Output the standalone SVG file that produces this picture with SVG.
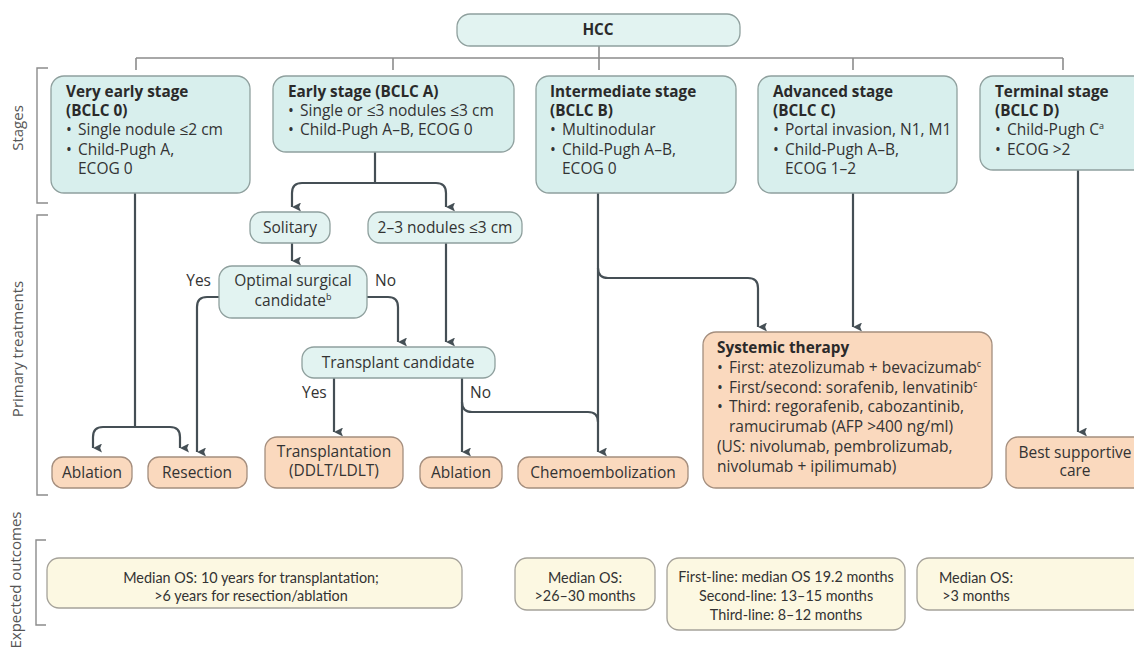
<svg xmlns="http://www.w3.org/2000/svg" width="1134" height="651" viewBox="0 0 1134 651">
<defs>
<marker id="ah" viewBox="0 0 10 10" refX="5" refY="10" markerWidth="9" markerHeight="9" markerUnits="userSpaceOnUse" orient="auto-start-reverse">
<path d="M0,0 L5,2 L10,0 L5,10 Z" fill="#454f55"/>
</marker>
<style>
text{font-family:"Open Sans",Lato,"Liberation Sans",sans-serif;fill:#333;}
.t{font-size:15.5px;}
.b{font-size:15.3px;font-weight:bold;fill:#2a2a2a;}
.c{text-anchor:middle;}
.o{font-family:Lato,"Open Sans",sans-serif;font-size:14.4px;text-anchor:middle;}
.side{font-size:15px;fill:#555;text-anchor:middle;}
.stage{fill:#d8efed;stroke:#8fa09e;stroke-width:1.3;}
.mid{fill:#e2f3f1;stroke:#8fa09e;stroke-width:1.3;}
.treat{fill:#fad9be;stroke:#a48e7e;stroke-width:1.3;}
.out{fill:#fcf8e2;stroke:#a5a29a;stroke-width:1.3;}
.tree{fill:none;stroke:#8c8c8c;stroke-width:1.6;}
.arr{fill:none;stroke:#454f55;stroke-width:2.2;}
.brk{fill:none;stroke:#8c8c8c;stroke-width:1.4;}
.sup{font-size:9px;}
</style>
</defs>

<g id="side-labels">
<path class="brk" d="M48,68 L37,68 L37,203 L48,203"/>
<path class="brk" d="M48,215 L37,215 L37,495 L48,495"/>
<path class="brk" d="M46,540 L36,540 L36,625 L46,625"/>
<text class="side" transform="translate(23,128) rotate(-90)">Stages</text>
<text class="side" transform="translate(23,349) rotate(-90)">Primary treatments</text>
<text class="side" transform="translate(21,580) rotate(-90)">Expected outcomes</text>
</g>

<g id="connectors">
<path class="tree" d="M599,46 L599,70 M136,58 L1063,58 M136,58 L136,70 M393,58 L393,70 M853,58 L853,70 M1063,58 L1063,70"/>
<path class="arr" d="M135,193 L135,427"/>
<path class="arr" d="M135,427 L103,427 Q93,427 93,437 L93,448" marker-end="url(#ah)"/>
<path class="arr" d="M135,427 L170,427 Q180,427 180,437 L180,448" marker-end="url(#ah)"/>
<path class="arr" d="M375,152 L375,183"/>
<path class="arr" d="M375,183 L302,183 Q292,183 292,193 L292,207" marker-end="url(#ah)"/>
<path class="arr" d="M375,183 L436,183 Q446,183 446,193 L446,207" marker-end="url(#ah)"/>
<path class="arr" d="M292,243 L292,261" marker-end="url(#ah)"/>
<path class="arr" d="M219,297 L207,297 Q197,297 197,307 L197,452" marker-end="url(#ah)"/>
<path class="arr" d="M367,297 L388,297 Q398,297 398,307 L398,342" marker-end="url(#ah)"/>
<path class="arr" d="M446,243 L446,342" marker-end="url(#ah)"/>
<path class="arr" d="M334,378 L334,432" marker-end="url(#ah)"/>
<path class="arr" d="M462,378 L462,452" marker-end="url(#ah)"/>
<path class="arr" d="M462,402 Q462,412 472,412 L588,412 Q598,412 598,422"/>
<path class="arr" d="M598,193 L598,452" marker-end="url(#ah)"/>
<path class="arr" d="M598,268 Q598,278 608,278 L748,278 Q758,278 758,288 L758,327" marker-end="url(#ah)"/>
<path class="arr" d="M853,193 L853,327" marker-end="url(#ah)"/>
<path class="arr" d="M1078,170 L1078,432" marker-end="url(#ah)"/>
<text class="t" x="211" y="286" text-anchor="end">Yes</text>
<text class="t" x="375" y="286">No</text>
<text class="t" x="302" y="398">Yes</text>
<text class="t" x="470" y="398">No</text>
</g>

<g id="hcc">
<rect class="mid" x="457" y="14" width="283" height="32" rx="13"/>
<text class="b c" x="598" y="35">HCC</text>
</g>

<g id="stage-0">
<rect class="stage" x="51" y="76" width="199" height="117" rx="13"/>
<text class="b" x="66" y="97">Very early stage</text>
<text class="b" x="66" y="116">(BCLC 0)</text>
<text class="t" x="66" y="135">•</text><text class="t" x="78" y="135">Single nodule ≤2 cm</text>
<text class="t" x="66" y="155">•</text><text class="t" x="78" y="155">Child-Pugh A,</text>
<text class="t" x="78" y="174">ECOG 0</text>
</g>

<g id="stage-a">
<rect class="stage" x="273" y="76" width="241" height="76" rx="13"/>
<text class="b" x="288" y="97">Early stage (BCLC A)</text>
<text class="t" x="288" y="116">•</text><text class="t" x="300" y="116">Single or ≤3 nodules ≤3 cm</text>
<text class="t" x="288" y="135">•</text><text class="t" x="300" y="135">Child-Pugh A–B, ECOG 0</text>
</g>

<g id="stage-b">
<rect class="stage" x="536" y="76" width="200" height="117" rx="13"/>
<text class="b" x="550" y="97">Intermediate stage</text>
<text class="b" x="550" y="116">(BCLC B)</text>
<text class="t" x="550" y="135">•</text><text class="t" x="562" y="135">Multinodular</text>
<text class="t" x="550" y="155">•</text><text class="t" x="562" y="155">Child-Pugh A–B,</text>
<text class="t" x="562" y="174">ECOG 0</text>
</g>

<g id="stage-c">
<rect class="stage" x="758" y="76" width="199" height="117" rx="13"/>
<text class="b" x="773" y="97">Advanced stage</text>
<text class="b" x="773" y="116">(BCLC C)</text>
<text class="t" x="773" y="135">•</text><text class="t" x="785" y="135">Portal invasion, N1, M1</text>
<text class="t" x="773" y="155">•</text><text class="t" x="785" y="155">Child-Pugh A–B,</text>
<text class="t" x="785" y="174">ECOG 1–2</text>
</g>

<g id="stage-d">
<rect class="stage" x="980" y="76" width="175" height="94" rx="13"/>
<text class="b" x="995" y="97">Terminal stage</text>
<text class="b" x="995" y="116">(BCLC D)</text>
<text class="t" x="995" y="135">•</text><text class="t" x="1007" y="135">Child-Pugh C<tspan class="sup" dy="-6">a</tspan></text>
<text class="t" x="995" y="155">•</text><text class="t" x="1007" y="155">ECOG &gt;2</text>
</g>

<g id="solitary">
<rect class="mid" x="250" y="212" width="80" height="31" rx="12"/>
<text class="t c" x="290" y="233">Solitary</text>
</g>

<g id="nodules">
<rect class="mid" x="368" y="212" width="154" height="31" rx="12"/>
<text class="t c" x="445" y="233">2–3 nodules ≤3 cm</text>
</g>

<g id="optimal">
<rect class="mid" x="219" y="266" width="148" height="52" rx="13"/>
<text class="t c" x="293" y="286">Optimal surgical</text>
<text class="t c" x="293" y="306">candidate<tspan class="sup" dy="-6">b</tspan></text>
</g>

<g id="transplant-candidate">
<rect class="mid" x="302" y="347" width="193" height="31" rx="12"/>
<text class="t c" x="398" y="368">Transplant candidate</text>
</g>

<g id="ablation-1">
<rect class="treat" x="52" y="457" width="80" height="31" rx="11"/>
<text class="t c" x="92" y="478">Ablation</text>
</g>

<g id="resection">
<rect class="treat" x="148" y="457" width="99" height="31" rx="11"/>
<text class="t c" x="197" y="478">Resection</text>
</g>

<g id="transplantation">
<rect class="treat" x="265" y="437" width="138" height="51" rx="12"/>
<text class="t c" x="334" y="457">Transplantation</text>
<text class="t c" x="334" y="476">(DDLT/LDLT)</text>
</g>

<g id="ablation-2">
<rect class="treat" x="420" y="457" width="82" height="31" rx="11"/>
<text class="t c" x="461" y="478">Ablation</text>
</g>

<g id="chemoembolization">
<rect class="treat" x="518" y="457" width="170" height="31" rx="11"/>
<text class="t c" x="603" y="478">Chemoembolization</text>
</g>

<g id="systemic">
<rect class="treat" x="703" y="332" width="289" height="156" rx="13"/>
<text class="b" x="717" y="353">Systemic therapy</text>
<text class="t" x="717" y="373">•</text><text class="t" x="729" y="373">First: atezolizumab + bevacizumab<tspan class="sup" dy="-6">c</tspan></text>
<text class="t" x="717" y="393">•</text><text class="t" x="729" y="393">First/second: sorafenib, lenvatinib<tspan class="sup" dy="-6">c</tspan></text>
<text class="t" x="717" y="412">•</text><text class="t" x="729" y="412">Third: regorafenib, cabozantinib,</text>
<text class="t" x="729" y="432">ramucirumab (AFP &gt;400 ng/ml)</text>
<text class="t" x="717" y="452">(US: nivolumab, pembrolizumab,</text>
<text class="t" x="717" y="472">nivolumab + ipilimumab)</text>
</g>

<g id="best-supportive">
<rect class="treat" x="1006" y="437" width="150" height="51" rx="12"/>
<text class="t c" x="1075" y="458">Best supportive</text>
<text class="t c" x="1075" y="476">care</text>
</g>

<g id="outcome-early">
<rect class="out" x="47" y="558" width="415" height="50" rx="12"/>
<text class="o" x="251" y="583">Median OS: 10 years for transplantation;</text>
<text class="o" x="251" y="601">&gt;6 years for resection/ablation</text>
</g>

<g id="outcome-intermediate">
<rect class="out" x="515" y="558" width="140" height="52" rx="12"/>
<text class="o" x="585" y="583">Median OS:</text>
<text class="o" x="585" y="601">&gt;26–30 months</text>
</g>

<g id="outcome-advanced">
<rect class="out" x="667" y="558" width="238" height="72" rx="12"/>
<text class="o" x="786" y="582">First-line: median OS 19.2 months</text>
<text class="o" x="786" y="601">Second-line: 13–15 months</text>
<text class="o" x="786" y="620">Third-line: 8–12 months</text>
</g>

<g id="outcome-terminal">
<rect class="out" x="917" y="558" width="240" height="52" rx="12"/>
<text class="o" x="976" y="583">Median OS:</text>
<text class="o" x="976" y="601">&gt;3 months</text>
</g>
</svg>
